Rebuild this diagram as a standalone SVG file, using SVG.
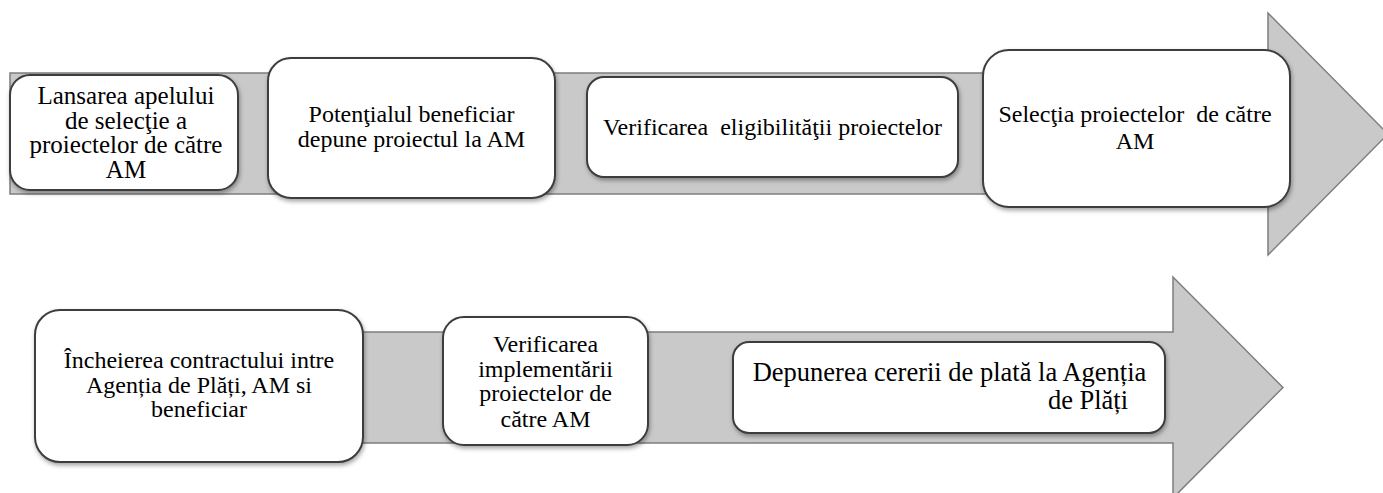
<svg xmlns="http://www.w3.org/2000/svg" width="1383" height="493" viewBox="0 0 1383 493">
<defs>
<filter id="sh" x="-10%" y="-10%" width="120%" height="130%">
<feDropShadow dx="1" dy="2.5" stdDeviation="2" flood-color="#000" flood-opacity="0.35"/>
</filter>
</defs>
<style>
.arrow{fill:#c9c9c9;stroke:#7d7d7d;stroke-width:1.5;stroke-linejoin:miter}
.box{fill:#fff;stroke:#3c3c3c;stroke-width:2;filter:url(#sh)}
text{font-family:"Liberation Serif","Times New Roman",serif;fill:#000;text-anchor:middle;font-size:24px}
</style>
<rect width="1383" height="493" fill="#fff"/>
<g id="connectors">
<polygon class="arrow" points="10,73 1268,73 1268,13 1388,134 1268,255 1268,194 10,194"/>
<polygon class="arrow" points="200,332 1173,332 1173,277 1283,387.5 1173,498 1173,443 200,443"/>
</g>
<g id="n1">
<rect class="box" x="10" y="75" width="228" height="115" rx="20"/>
<text style="font-size:25px"><tspan x="126" y="104">Lansarea apelului</tspan><tspan x="126" y="128.5">de selecţie a</tspan><tspan x="126" y="153">proiectelor de către</tspan><tspan x="126" y="177.5">AM</tspan></text>
</g>
<g id="n2">
<rect class="box" x="268" y="58" width="287" height="140" rx="23"/>
<text><tspan x="411.5" y="122">Potenţialul beneficiar</tspan><tspan x="411.5" y="147">depune proiectul la AM</tspan></text>
</g>
<g id="n3">
<rect class="box" x="587" y="77" width="371" height="100" rx="17"/>
<text xml:space="preserve" x="772.5" y="135">Verificarea  eligibilităţii proiectelor</text>
</g>
<g id="n4">
<rect class="box" x="983" y="50" width="307" height="157" rx="26"/>
<text xml:space="preserve"><tspan x="1135" y="122">Selecţia proiectelor  de către</tspan><tspan x="1135" y="149">AM</tspan></text>
</g>
<g id="n5">
<rect class="box" x="35" y="310" width="328" height="152" rx="25"/>
<text><tspan x="199" y="368">Încheierea contractului intre</tspan><tspan x="199" y="393">Agenția de Plăți, AM si</tspan><tspan x="199" y="417">beneficiar</tspan></text>
</g>
<g id="n6">
<rect class="box" x="443" y="317" width="205" height="128" rx="21"/>
<text><tspan x="545.5" y="352">Verificarea</tspan><tspan x="545.5" y="377">implementării</tspan><tspan x="545.5" y="401">proiectelor de</tspan><tspan x="545.5" y="427">către AM</tspan></text>
</g>
<g id="n7">
<rect class="box" x="733" y="342" width="432" height="91" rx="16"/>
<text style="font-size:26.5px"><tspan x="949.5" y="381">Depunerea cererii de plată la Agenția</tspan><tspan x="1088" y="409">de Plăți</tspan></text>
</g>
</svg>
